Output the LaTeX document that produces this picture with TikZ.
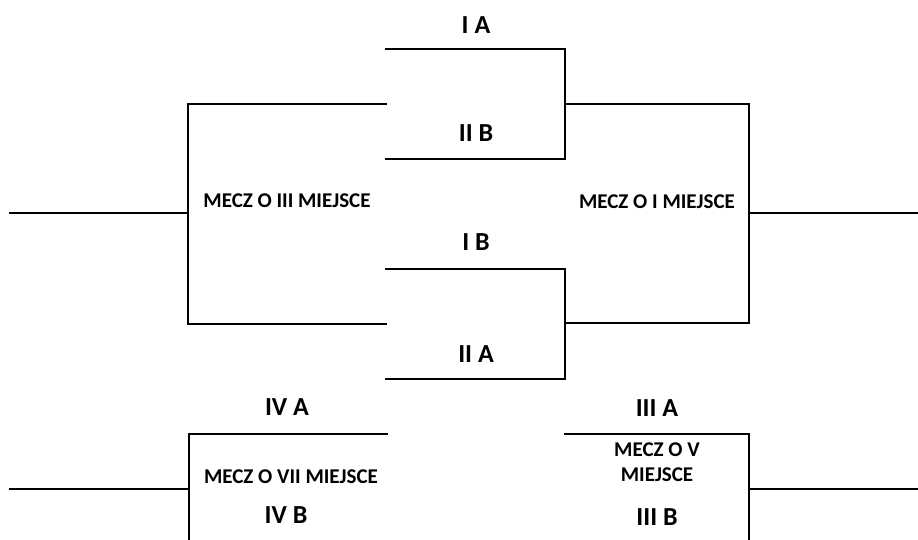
\documentclass[tikz,border=0pt]{standalone}
\usepackage{fontspec}
\setmainfont{Carlito}
\begin{document}
\begin{tikzpicture}[x=1pt,y=-1pt,
  bline/.style={line width=2.5pt, line cap=rect, line join=miter},
  lbl/.style={font=\fontsize{26}{30}\selectfont\bfseries, inner sep=0pt},
  mecz/.style={font=\fontsize{21}{25}\selectfont\bfseries, align=center, inner sep=0pt}]
\useasboundingbox (0,0) rectangle (918,539);
% coordinates of the bracket
\coordinate (ia1) at (386,49);   \coordinate (ia2) at (565,49);
\coordinate (iib1) at (386,159); \coordinate (iib2) at (565,159);
\coordinate (ib1) at (386,269);  \coordinate (ib2) at (565,269);
\coordinate (iia1) at (386,379); \coordinate (iia2) at (565,379);
\coordinate (t1) at (565,104);   \coordinate (t2) at (749,104);
\coordinate (b1) at (565,323);   \coordinate (b2) at (749,323);
\coordinate (rmid) at (749,213); \coordinate (rout) at (918,213);
\coordinate (l1) at (386,104);   \coordinate (l2) at (188,104);
\coordinate (l3) at (188,324);   \coordinate (l4) at (386,324);
\coordinate (lmid) at (188,213); \coordinate (lout) at (10,213);
\coordinate (iva1) at (387,434); \coordinate (iva2) at (189,434);
\coordinate (iva3) at (189,539); \coordinate (vlmid) at (189,489);
\coordinate (vlout) at (10,489);
\coordinate (iiia1) at (565,434); \coordinate (iiia2) at (749,434);
\coordinate (iiia3) at (749,539); \coordinate (vrmid) at (749,489);
\coordinate (vrout) at (918,489);
% lines
\draw[bline] (ia1) -- (ia2) -- (iib2) -- (iib1);
\draw[bline] (ib1) -- (ib2) -- (iia2) -- (iia1);
\draw[bline] (t1) -- (t2) -- (b2) -- (b1);
\draw[bline] (rmid) -- (rout);
\draw[bline] (l1) -- (l2) -- (l3) -- (l4);
\draw[bline] (lmid) -- (lout);
\draw[bline] (iva1) -- (iva2) -- (iva3);
\draw[bline] (vlmid) -- (vlout);
\draw[bline] (iiia1) -- (iiia2) -- (iiia3);
\draw[bline] (vrmid) -- (vrout);
% labels
\node[lbl] (nIA) at (476,25) {I A};
\node[lbl] (nIIB) at (476,133) {II B};
\node[lbl] (nIB) at (476,242) {I B};
\node[lbl] (nIIA) at (476,354) {II A};
\node[mecz] (m3) at (287,201) {MECZ O III MIEJSCE};
\node[mecz] (m1) at (657,202) {MECZ O I MIEJSCE};
\node[lbl] (nIVA) at (287,407) {IV A};
\node[mecz] (m7) at (291,477) {MECZ O VII MIEJSCE};
\node[lbl] (nIVB) at (286,515) {IV B};
\node[lbl] (nIIIA) at (657,408) {III A};
\node[mecz] (m5) at (657,462) {MECZ O V\\MIEJSCE};
\node[lbl] (nIIIB) at (657,517) {III B};
\end{tikzpicture}
\end{document}
